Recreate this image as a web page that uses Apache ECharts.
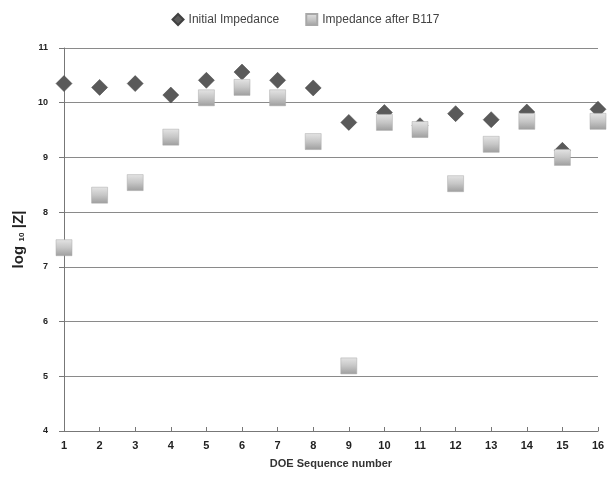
<!DOCTYPE html>
<html><head><meta charset="utf-8">
<script src="https://cdn.jsdelivr.net/npm/echarts@6/dist/echarts.min.js"></script>
<style>html,body{margin:0;padding:0;background:#fff}#c{width:611px;height:480px}</style>
</head><body><div id="c"></div>
<script>
const sequence = [1,2,3,4,5,6,7,8,9,10,11,12,13,14,15,16];
const initialImpedance = [10.35,10.28,10.35,10.14,10.41,10.56,10.41,10.27,9.64,9.82,9.58,9.80,9.69,9.83,9.13,9.88];
const afterB117 = [7.35,8.31,8.54,9.37,10.09,10.28,10.09,9.29,5.19,9.64,9.51,8.52,9.24,9.66,9.00,9.66];
const yTicks = [4,5,6,7,8,9,10,11];

const chart = echarts.init(document.getElementById('c'));
const sqGrad = new echarts.graphic.LinearGradient(0,0,0,1,[
  {offset:0,color:'#e4e4e4'},{offset:0.5,color:'#c6c6c6'},{offset:1,color:'#9e9e9e'}]);
chart.setOption({
  animation:false,
  backgroundColor:'#fff',
  legend:{
    top:8, left:'center', itemGap:26, itemWidth:11, itemHeight:11,
    textStyle:{color:'#444', fontSize:12, fontFamily:'Liberation Sans Narrow, Liberation Sans, sans-serif'},
    data:[{name:'Initial Impedance', icon:'diamond'},{name:'Impedance after B117', icon:'rect'}]
  },
  grid:{left:64, right:13, top:48, bottom:49},
  xAxis:{
    type:'value', min:1, max:16, interval:1,
    name:'DOE Sequence number', nameLocation:'middle', nameGap:27,
    nameTextStyle:{color:'#333', fontSize:11, fontWeight:'bold', fontFamily:'Liberation Sans, sans-serif'},
    axisLine:{lineStyle:{color:'#777'}},
    axisTick:{inside:true, length:4, lineStyle:{color:'#777'}},
    axisLabel:{color:'#222', fontSize:11, fontWeight:'bold', margin:9},
    splitLine:{show:false}
  },
  yAxis:{
    type:'value', min:4, max:11, interval:1,
    name:'{a|log}{b|  10  }{a||Z|}', nameLocation:'middle', nameGap:38, nameRotate:90,
    nameTextStyle:{rich:{
      a:{color:'#222', fontSize:15, fontWeight:'bold', fontFamily:'Liberation Sans, sans-serif'},
      b:{color:'#222', fontSize:8, fontWeight:'bold', verticalAlign:'bottom'}
    }},
    axisLine:{show:true, lineStyle:{color:'#777'}},
    axisTick:{show:true, length:5, lineStyle:{color:'#777'}},
    axisLabel:{color:'#222', fontSize:9, fontWeight:'bold', margin:16,
      formatter:v=>yTicks.includes(v)?String(v):''},
    splitLine:{lineStyle:{color:'#8a8a8a', width:1}}
  },
  series:[
    {name:'Initial Impedance', type:'scatter', symbol:'diamond', symbolSize:[16,16],
     itemStyle:{color:'#5a5a5a', borderColor:'#404040', borderWidth:0.5, opacity:1},
     data:sequence.map((x,i)=>[x,initialImpedance[i]])},
    {name:'Impedance after B117', type:'scatter', symbol:'rect', symbolSize:[16,16],
     itemStyle:{color:sqGrad, borderColor:'#a8a8a8', borderWidth:0.5, opacity:1},
     data:sequence.map((x,i)=>[x,afterB117[i]])}
  ]
});
</script></body></html>
